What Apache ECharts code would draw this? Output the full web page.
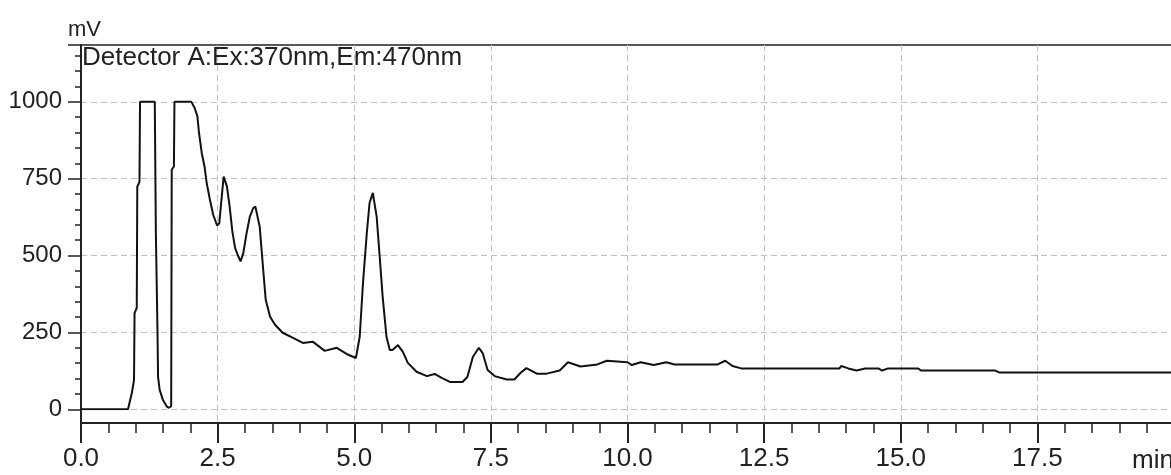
<!DOCTYPE html>
<html><head><meta charset="utf-8">
<script src="https://cdn.jsdelivr.net/npm/echarts@6/dist/echarts.min.js"></script>
<style>html,body{margin:0;padding:0;background:#fff}#c{width:1171px;height:475px}</style>
</head><body><div id="c"></div>
<script>
// Retention time (min)
const times = [0, 0.86, 0.88, 0.93, 0.97, 0.98, 1.02, 1.03, 1.07, 1.08, 1.35, 1.37, 1.40, 1.41, 1.44, 1.50, 1.57, 1.61, 1.65, 1.66, 1.70, 1.71,
  2.02, 2.08, 2.13, 2.16, 2.21, 2.26, 2.30, 2.36, 2.42, 2.49, 2.53, 2.57, 2.61, 2.64, 2.67, 2.72, 2.77, 2.82, 2.88, 2.92, 2.97, 3.03, 3.09, 3.15, 3.19,
  3.27, 3.33, 3.38, 3.46, 3.55, 3.69, 3.88, 4.06, 4.24, 4.46, 4.68, 4.86, 5.03, 5.10, 5.16, 5.23, 5.28, 5.34, 5.41, 5.47, 5.52, 5.59, 5.65, 5.70,
  5.80, 5.89, 5.98, 6.14, 6.33, 6.47, 6.60, 6.75, 6.98, 7.07, 7.17, 7.28, 7.35, 7.44, 7.57, 7.79, 7.93, 8.04, 8.15, 8.34, 8.52, 8.76, 8.91, 9.14,
  9.45, 9.62, 10.0, 10.08, 10.24, 10.48, 10.71, 10.86, 11.65, 11.79, 11.92, 12.08, 13.88, 13.91, 14.04, 14.19, 14.35, 14.59, 14.66, 14.77, 15.32,
  15.37, 16.73, 16.80, 20.0];
// Detector response (mV)
const signal = [0, 0, 5, 53, 95, 313, 330, 724, 740, 1000, 1000, 574, 248, 105, 63, 30, 9, 5, 10, 779, 790, 1000,
  1000, 980, 953, 898, 833, 790, 736, 681, 632, 598, 605, 681, 757, 762, 725, 659, 578, 524, 497, 481, 508, 573, 627, 654, 660,
  594, 463, 356, 301, 275, 249, 232, 216, 220, 190, 200, 180, 167, 236, 411, 574, 671, 704, 627, 486, 366, 236, 193, 193,
  209, 187, 151, 122, 108, 115, 102, 89, 89, 105, 170, 200, 183, 128, 108, 97, 97, 118, 134, 116, 116, 126, 153, 139,
  146, 158, 153, 144, 153, 144, 153, 146, 146, 158, 141, 133, 133, 141, 133, 126, 133, 133, 126, 133, 133,
  126, 126, 120, 120];
const titleText = 'Detector A:Ex:370nm,Em:470nm';
const yUnit = 'mV';
const xUnit = 'min';

const FONT = "'Liberation Sans',Arial,sans-serif";
const TXT = '#222';
const GRID = '#c0c0c0';
const chart = echarts.init(document.getElementById('c'), null, {renderer: 'canvas'});
chart.setOption({
  animation: false,
  backgroundColor: '#fff',
  title: {text: titleText, left: 82, top: 45, padding: 0,
    textStyle: {fontFamily: FONT, fontSize: 26, fontWeight: 'normal', color: TXT}},
  graphic: [
    {type: 'text', left: 68, top: 19, style: {text: yUnit, font: "22px 'Liberation Sans',sans-serif", fill: TXT}},
    {type: 'text', left: 1132, top: 448, style: {text: xUnit, font: "26px 'Liberation Sans',sans-serif", fill: TXT}}
  ],
  grid: [
    {left: 81, top: 45, width: 1093, bottom: 65.7, outerBoundsMode: 'none', containLabel: false},
    {left: 81, top: 45, width: 1093, bottom: 52, outerBoundsMode: 'none', containLabel: false,
      show: true, borderColor: '#222', borderWidth: 1.5, backgroundColor: 'transparent'}
  ],
  xAxis: [
    {gridIndex: 0, type: 'value', min: 0, max: 20, show: false},
    {gridIndex: 1, type: 'value', min: 0, max: 20, interval: 2.5,
      axisLine: {show: true, onZero: false, lineStyle: {color: '#222', width: 2}},
      axisTick: {show: true, length: 20, lineStyle: {color: '#222', width: 2}},
      minorTick: {show: true, splitNumber: 5, length: 10, lineStyle: {color: '#222', width: 1.5}},
      axisLabel: {margin: 23, formatter: v => v.toFixed(1), showMaxLabel: false, fontFamily: FONT, fontSize: 26, color: TXT},
      splitLine: {show: true, lineStyle: {color: GRID, type: [6, 4], width: 1}}}
  ],
  yAxis: [
    {gridIndex: 0, type: 'value', min: 0, max: 1185, interval: 250,
      axisLine: {show: false},
      axisTick: {show: true, inside: false, length: 13, lineStyle: {color: '#222', width: 1.5}},
      minorTick: {show: true, splitNumber: 5, length: 6, lineStyle: {color: '#222', width: 1.5}},
      axisLabel: {margin: 19, showMaxLabel: false, formatter: v => String(v), fontFamily: FONT, fontSize: 24, color: TXT},
      splitLine: {show: true, showMaxLine: false, lineStyle: {color: GRID, type: [6, 4], width: 1}}},
    {gridIndex: 1, type: 'value', min: -45, max: 1185,
      axisLine: {show: true, onZero: false, lineStyle: {color: '#222', width: 2}},
      axisTick: {show: false}, axisLabel: {show: false}, splitLine: {show: false}}
  ],
  series: [{
    type: 'line', xAxisIndex: 0, yAxisIndex: 0,
    data: times.map((t, i) => [t, signal[i]]),
    showSymbol: false, symbol: 'none',
    lineStyle: {color: '#111', width: 2}
  }]
});
</script></body></html>
